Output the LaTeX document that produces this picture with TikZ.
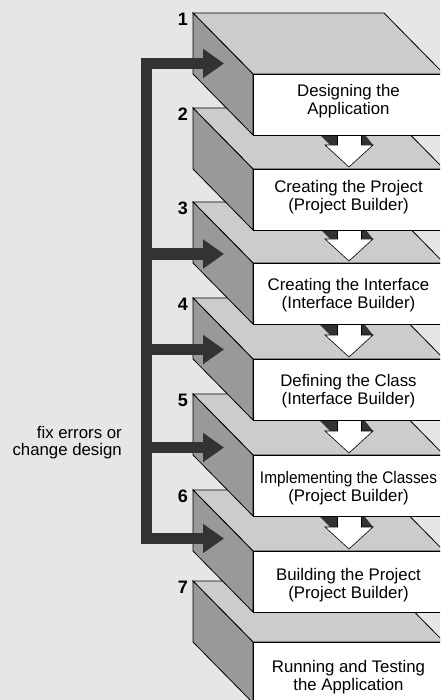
\documentclass[tikz,border=0pt]{standalone}
\usepackage{fontspec}
\setmainfont{Liberation Sans}
\usepackage{graphicx}
\usetikzlibrary{arrows.meta}

\definecolor{bgc}{RGB}{230,230,230}
\definecolor{topc}{RGB}{204,204,204}
\definecolor{sidec}{RGB}{153,153,153}
\definecolor{darkc}{RGB}{51,51,51}

\tikzset{
  edgeline/.style={draw=black, line width=0.8pt, line join=miter},
  facetext/.style={align=center, inner sep=0pt, font=\fontsize{16.8}{18}\selectfont},
  sidetext/.style={align=right, inner sep=0pt, font=\fontsize{16.8}{17.5}\selectfont},
  stepnum/.style={anchor=base east, inner sep=0pt, font=\fontsize{18}{20}\selectfont\bfseries},
  feedback/.style={draw=darkc, line width=11pt, line join=miter,
    -{Triangle[length=21pt,width=28pt]}},
  flowarrow/.style={fill=white, draw=black, line width=0.6pt, line join=miter},
}

% one stair block: #1 = y of its back top edge
\newcommand\slab[1]{%
  \filldraw[edgeline, fill=topc] (193,#1) -- (384,#1) -- (444,{#1+61}) -- (253,{#1+61}) -- cycle;
  \filldraw[edgeline, fill=sidec] (193,#1) -- (253,{#1+61}) -- (253,{#1+122}) -- (193,{#1+61}) -- cycle;
  \filldraw[edgeline, fill=white] (253,{#1+61}) rectangle (444,{#1+122});
}

% white step-down arrow with its dark side faces: #1 = top of the next front face
\newcommand\flowdown[1]{%
  \fill[darkc] (330,{#1-24}) -- (337.5,{#1-24}) -- (337.5,{#1-64}) -- (290,{#1-64}) -- cycle;
  \fill[darkc] (361.5,{#1-24}) -- (373,{#1-24}) -- (349,{#1-54}) -- cycle;
  \filldraw[flowarrow] (337.5,{#1-64}) -- (337.5,{#1-24}) -- (325,{#1-24}) -- (349,{#1-2})
    -- (373,{#1-24}) -- (361.5,{#1-24}) -- (361.5,{#1-64}) -- cycle;
}

\begin{document}
\begin{tikzpicture}[x=1pt,y=-1pt]
\useasboundingbox (0,0) rectangle (440,700);
\clip (0,0) rectangle (440,700);
\fill[bgc] (0,0) rectangle (440,700);

% blocks, painted from the lowest step up
\slab{581}
\slab{490}
\flowdown{551}
\slab{394}
\flowdown{455}
\slab{298}
\flowdown{359}
\slab{202}
\flowdown{263}
\slab{108}
\flowdown{169}
\slab{13}

% step titles
\node[facetext] (s1) at (348.5,{96.5+5.4}) {\strut Designing the\\\strut Application};
\node[facetext] (s2) at (348.5,{193+5.4}) {\strut Creating the Project\\\strut (Project Builder)};
\node[facetext] (s3) at (348.5,{290+5.4}) {\strut Creating the Interface\\\strut (Interface Builder)};
\node[facetext] (s4) at (348.5,{386.5+5.4}) {\strut Defining the Class\\\strut (Interface Builder)};
\node[facetext] (s5) at (348.5,{483+5.4}) {\strut\scalebox{0.916}[1]{Implementing the Classes}\\\strut (Project Builder)};
\node[facetext] (s6) at (348.5,{580+5.4}) {\strut Building the Project\\\strut (Project Builder)};
\node[facetext] (s7) at (348.5,{672+5.4}) {\strut Running and Testing\\\strut the Application};

% step numbers
\node[stepnum] (n1) at (188,{13+12.8}) {1};
\node[stepnum] (n2) at (188,{108+12.8}) {2};
\node[stepnum] (n3) at (188,{202+12.8}) {3};
\node[stepnum] (n4) at (188,{298+12.8}) {4};
\node[stepnum] (n5) at (188,{394+12.8}) {5};
\node[stepnum] (n6) at (188,{490+12.8}) {6};
\node[stepnum] (n7) at (188,{581+12.8}) {7};

% feedback loop
\coordinate (fbtop) at (146.5,63.5);
\coordinate (fb3) at (146.5,254);
\coordinate (fb4) at (146.5,349.5);
\coordinate (fb5) at (146.5,447.5);
\coordinate (fbbot) at (146.5,538.5);
\coordinate (t1) at (224,63.5);
\coordinate (t3) at (224,254);
\coordinate (t4) at (224,349.5);
\coordinate (t5) at (224,447.5);
\coordinate (t6) at (224,538.5);

\draw[feedback, {Triangle[length=21pt,width=28pt]}-{Triangle[length=21pt,width=28pt]}]
  (t1) -- (fbtop) -- (fbbot) -- (t6);
\draw[feedback] (fb3) -- (t3);
\draw[feedback] (fb4) -- (t4);
\draw[feedback] (fb5) -- (t5);

\node[sidetext, anchor=east] (fixnote) at (122,{438+5.25}) {\strut fix errors or\\\strut change design};
\end{tikzpicture}
\end{document}
